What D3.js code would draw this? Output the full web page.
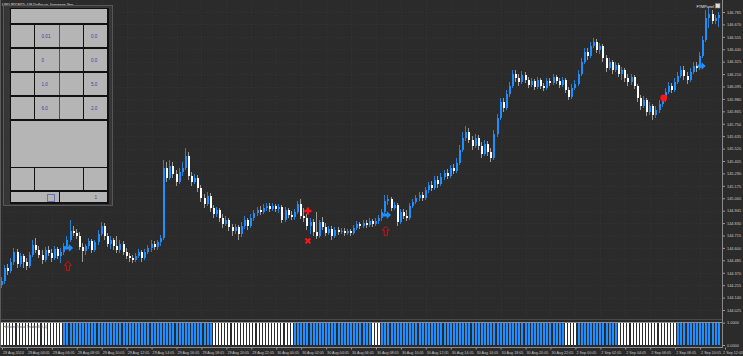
<!DOCTYPE html>
<html><head><meta charset="utf-8">
<script src="https://cdn.jsdelivr.net/npm/d3@7/dist/d3.min.js"></script>
<style>
html,body{margin:0;padding:0;background:#2b2b2b;overflow:hidden}
svg{display:block}
text{font-family:"Liberation Sans",Arial,sans-serif}
</style>
</head><body>
<svg id="chart" width="743" height="356"></svg>
<script>
// ---------------- DATA ----------------
const symbolTitle = "USDJPY,M15:  US Dollar vs Japanese Yen";
const panelName = "FTMPanel";
const subWindowTitle = "Heiken Trend Trade(3,0,5)";

const opens = [144.258,144.295,144.415,144.387,144.470,144.562,144.452,144.525,144.470,144.433,
144.535,144.628,144.581,144.535,144.489,144.581,144.553,144.507,144.591,144.525,
144.562,144.618,144.674,144.758,144.739,144.711,144.609,144.572,144.618,144.665,
144.581,144.655,144.730,144.804,144.711,144.637,144.674,144.618,144.581,144.637,
144.562,144.525,144.507,144.489,144.525,144.562,144.507,144.562,144.600,144.637,
144.609,144.655,144.693,145.341,145.248,145.359,145.285,145.211,145.303,145.341,
145.451,145.266,145.211,145.248,145.155,145.063,145.007,145.081,144.970,144.915,
144.952,144.878,144.822,144.859,144.794,144.758,144.794,144.730,144.804,144.859,
144.804,144.878,144.924,144.952,144.933,144.970,144.988,144.961,144.988,144.961,
144.979,144.859,144.952,144.905,144.887,144.933,145.007,144.896,144.878,144.804,
144.840,144.748,144.711,144.840,144.794,144.739,144.776,144.711,144.767,144.748,
144.758,144.739,144.758,144.739,144.785,144.822,144.804,144.831,144.813,144.850,
144.822,144.850,144.878,144.933,145.035,145.053,144.970,144.998,144.840,144.933,
144.896,144.878,144.988,145.026,145.063,145.090,145.063,145.137,145.183,145.155,
145.229,145.192,145.257,145.294,145.266,145.341,145.313,145.387,145.507,145.618,
145.674,145.600,145.544,145.618,145.544,145.470,145.563,145.489,145.433,145.655,
145.803,145.951,145.896,146.026,146.100,146.211,146.174,146.137,146.202,146.155,
146.109,146.146,146.090,146.155,146.100,146.081,146.146,146.128,146.183,146.146,
146.109,146.155,146.063,145.998,146.081,146.118,146.211,146.322,146.415,146.378,
146.470,146.507,146.433,146.470,146.359,146.266,146.322,146.248,146.294,146.211,
146.248,146.174,146.137,146.183,146.100,145.989,145.914,145.970,145.859,145.914,
145.831,145.877,145.933,145.979,146.044,146.100,146.063,146.137,146.192,146.248,
146.192,146.155,146.229,146.285,146.266,146.378,146.526,146.729,146.766,146.702,
146.729];

const highs = [144.331,144.443,144.452,144.507,144.600,144.591,144.553,144.544,144.507,144.562,
144.674,144.693,144.618,144.581,144.609,144.618,144.591,144.618,144.609,144.600,
144.646,144.711,144.859,144.804,144.776,144.748,144.646,144.637,144.693,144.683,
144.674,144.767,144.840,144.831,144.739,144.711,144.693,144.711,144.674,144.665,
144.600,144.553,144.535,144.553,144.591,144.581,144.591,144.628,144.674,144.665,
144.674,144.720,145.415,145.396,145.415,145.396,145.322,145.341,145.396,145.526,
145.489,145.303,145.285,145.276,145.183,145.100,145.118,145.109,144.998,144.979,
144.970,144.915,144.896,144.878,144.822,144.822,144.813,144.840,144.896,144.878,
144.915,144.952,144.979,144.988,145.007,145.016,145.016,145.016,145.007,145.007,
144.998,144.979,144.970,144.942,144.961,145.035,145.053,144.970,144.915,144.878,
144.868,144.933,144.859,144.887,144.831,144.804,144.804,144.794,144.794,144.785,
144.785,144.776,144.776,144.813,144.850,144.840,144.859,144.859,144.878,144.868,
144.878,144.905,144.961,145.090,145.090,145.072,145.026,145.016,144.961,144.961,
144.952,145.016,145.053,145.090,145.118,145.118,145.164,145.211,145.220,145.266,
145.266,145.294,145.322,145.331,145.368,145.378,145.433,145.553,145.674,145.729,
145.711,145.637,145.655,145.646,145.581,145.600,145.590,145.526,145.692,145.840,
145.989,145.989,146.063,146.137,146.248,146.248,146.211,146.239,146.229,146.183,
146.174,146.165,146.183,146.174,146.128,146.174,146.174,146.211,146.202,146.174,
146.183,146.174,146.090,146.118,146.155,146.248,146.359,146.452,146.452,146.507,
146.544,146.535,146.498,146.489,146.387,146.359,146.340,146.322,146.313,146.276,
146.266,146.211,146.211,146.202,146.118,146.016,146.007,145.989,145.951,145.933,
145.914,145.970,146.007,146.081,146.137,146.128,146.174,146.229,146.285,146.285,
146.229,146.266,146.322,146.322,146.415,146.563,146.803,146.822,146.803,146.757,
146.785];

const lows = [144.230,144.267,144.350,144.368,144.443,144.415,144.424,144.415,144.396,144.415,
144.516,144.553,144.507,144.452,144.470,144.525,144.470,144.489,144.498,144.461,
144.535,144.600,144.655,144.711,144.683,144.581,144.470,144.535,144.591,144.553,
144.562,144.628,144.711,144.674,144.609,144.591,144.581,144.553,144.553,144.535,
144.498,144.470,144.461,144.470,144.507,144.470,144.489,144.544,144.562,144.581,
144.581,144.618,144.674,145.211,145.229,145.248,145.174,145.192,145.266,145.322,
145.229,145.174,145.192,145.118,145.026,144.970,144.988,144.933,144.878,144.887,
144.840,144.785,144.804,144.758,144.711,144.730,144.674,144.702,144.776,144.767,
144.785,144.850,144.896,144.905,144.915,144.942,144.933,144.942,144.933,144.924,
144.831,144.840,144.878,144.859,144.859,144.915,144.868,144.840,144.767,144.730,
144.711,144.683,144.693,144.767,144.711,144.720,144.674,144.693,144.720,144.730,
144.711,144.720,144.711,144.720,144.767,144.776,144.785,144.785,144.794,144.794,
144.804,144.822,144.850,144.915,144.998,144.942,144.952,144.804,144.822,144.868,
144.850,144.859,144.970,145.007,145.035,145.035,145.044,145.109,145.127,145.137,
145.155,145.174,145.229,145.239,145.248,145.285,145.294,145.368,145.489,145.590,
145.572,145.507,145.526,145.507,145.433,145.451,145.451,145.396,145.415,145.627,
145.785,145.859,145.877,145.998,146.081,146.137,146.100,146.118,146.128,146.081,
146.090,146.063,146.072,146.072,146.054,146.063,146.100,146.109,146.118,146.081,
146.090,146.035,145.970,145.979,146.063,146.100,146.192,146.303,146.340,146.359,
146.452,146.405,146.396,146.322,146.229,146.248,146.211,146.229,146.183,146.155,
146.137,146.100,146.109,146.072,145.951,145.877,145.896,145.822,145.831,145.785,
145.803,145.850,145.905,145.951,146.026,146.035,146.044,146.118,146.174,146.155,
146.118,146.137,146.211,146.229,146.248,146.359,146.507,146.637,146.674,146.674,
146.646];

const closes = [144.295,144.415,144.387,144.470,144.562,144.452,144.525,144.470,144.433,144.535,
144.628,144.581,144.535,144.489,144.581,144.553,144.507,144.591,144.525,144.562,
144.618,144.674,144.758,144.739,144.711,144.609,144.572,144.618,144.665,144.581,
144.655,144.730,144.804,144.711,144.637,144.674,144.618,144.581,144.637,144.562,
144.525,144.507,144.489,144.525,144.562,144.507,144.562,144.600,144.637,144.609,
144.655,144.693,145.341,145.248,145.359,145.285,145.211,145.303,145.341,145.451,
145.266,145.211,145.248,145.155,145.063,145.007,145.081,144.970,144.915,144.952,
144.878,144.822,144.859,144.794,144.758,144.794,144.730,144.804,144.859,144.804,
144.878,144.924,144.952,144.933,144.970,144.988,144.961,144.988,144.961,144.979,
144.859,144.952,144.905,144.887,144.933,145.007,144.896,144.878,144.804,144.840,
144.748,144.711,144.840,144.794,144.739,144.776,144.711,144.767,144.748,144.758,
144.739,144.758,144.739,144.785,144.822,144.804,144.831,144.813,144.850,144.822,
144.850,144.878,144.933,145.035,145.053,144.970,144.998,144.840,144.933,144.896,
144.878,144.988,145.026,145.063,145.090,145.063,145.137,145.183,145.155,145.229,
145.192,145.257,145.294,145.266,145.341,145.313,145.387,145.507,145.618,145.674,
145.600,145.544,145.618,145.544,145.470,145.563,145.489,145.433,145.655,145.803,
145.951,145.896,146.026,146.100,146.211,146.174,146.137,146.202,146.155,146.109,
146.146,146.090,146.155,146.100,146.081,146.146,146.128,146.183,146.146,146.109,
146.155,146.063,145.998,146.081,146.118,146.211,146.322,146.415,146.378,146.470,
146.507,146.433,146.470,146.359,146.266,146.322,146.248,146.294,146.211,146.248,
146.174,146.137,146.183,146.100,145.989,145.914,145.970,145.859,145.914,145.831,
145.877,145.933,145.979,146.044,146.100,146.063,146.137,146.192,146.248,146.192,
146.155,146.229,146.285,146.266,146.378,146.526,146.729,146.766,146.702,146.729,
146.757];

// trend histogram: run lengths, alternating state starting with 0 (white), then 1 (blue)
const trendRuns = [20,48,26,25,3,59,4,13,19,14];

const priceTicks = ["146.785","146.670","146.555","146.440","146.325","146.210","146.095","145.980",
"145.865","145.750","145.635","145.520","145.405","145.290","145.175","145.060","144.945","144.830",
"144.715","144.600","144.485","144.370","144.255","144.140","144.025"];

const timeLabels = ["29 Aug 2024","29 Aug 04:05","29 Aug 06:05","29 Aug 08:05","29 Aug 10:05","29 Aug 12:05",
"29 Aug 14:05","29 Aug 16:05","29 Aug 18:05","29 Aug 20:05","29 Aug 22:05","30 Aug 00:05","30 Aug 02:05",
"30 Aug 04:05","30 Aug 06:05","30 Aug 08:05","30 Aug 10:05","30 Aug 12:05","30 Aug 14:05","30 Aug 16:05",
"30 Aug 18:05","30 Aug 20:05","30 Aug 22:05","2 Sep 00:05","2 Sep 02:05","2 Sep 04:05","2 Sep 06:05",
"2 Sep 08:05","2 Sep 10:05","2 Sep 12:05"];
const timeLabelBars = [0,8,16,24,32,40,48,56,64,72,80,88,96,104,112,120,128,136,144,152,160,168,176,184,192,200,208,216,224,232];

const signalTypes  = ["buyArrow","upOutline","plus","cross","buyArrow","upOutline","dot","buyArrow"];
const signalBars   = [21,21,98,98,123,123,212,224];
const signalPrices = [144.600,144.433,144.942,144.665,144.905,144.758,145.989,146.285];

const histLabels = ["1.0000","0.0000"];
const histValues = [1,0];

const panelLeftValues  = ["0.01","0","1.0","6.0"];
const panelRightValues = ["0.0","0.0","5.0","2.0"];
const panelFooterValue = "1";

// ---------------- DRAW ----------------
const W = 743, H = 356;
const BG = "#2b2b2b", BLUE = "#1e8fff", WHITE = "#ffffff", AXC = "#c8c8c8";
const svg = d3.select("#chart");
svg.append("rect").attr("width",W).attr("height",H).attr("fill",BG);

const plotRight = 722.5;
const x = d3.scaleLinear().domain([0,232]).range([2,725]);
const y = d3.scaleLinear().domain([144.025,146.785]).range([310,12]);
const yh = d3.scaleLinear().domain([0,1]).range([345,322.7]);

// grid (faint)
const grid = svg.append("g").attr("stroke","#333333").attr("stroke-dasharray","1,2").attr("stroke-width",1);
priceTicks.forEach(t=>{
  const yy = Math.round(y(+t))+0.5;
  grid.append("line").attr("x1",0).attr("x2",plotRight).attr("y1",yy).attr("y2",yy);
});
timeLabelBars.forEach(b=>{
  const xx = Math.round(x(b))+0.5;
  if (xx < plotRight) grid.append("line").attr("x1",xx).attr("x2",xx).attr("y1",0).attr("y2",318);
});

// candles
const N = closes.length;
const cg = svg.append("g").attr("shape-rendering","crispEdges");
d3.range(N).forEach(i=>{
  const bull = closes[i] >= opens[i];
  const bx = Math.round(x(i)) - 1;
  cg.append("rect").attr("x",bx).attr("width",1)
    .attr("y",y(highs[i])).attr("height",Math.max(1,y(lows[i])-y(highs[i])))
    .attr("fill", bull ? "#2a7fd4" : "#9a9a9a");
  const top = y(Math.max(opens[i],closes[i])), bot = y(Math.min(opens[i],closes[i]));
  cg.append("rect").attr("x",bx).attr("width",2)
    .attr("y",top).attr("height",Math.max(1,bot-top))
    .attr("fill", bull ? BLUE : WHITE);
});

// signals
const sg = svg.append("g");
signalTypes.forEach((t,k)=>{
  const cx = x(signalBars[k]), cy = y(signalPrices[k]);
  if (t==="buyArrow"){
    sg.append("path").attr("transform",`translate(${cx+1.5},${cy})`)
      .attr("d","M-4,-1.6 L0,-1.6 L0,-3.8 L4.2,0 L0,3.8 L0,1.6 L-4,1.6 Z").attr("fill",BLUE);
  } else if (t==="upOutline"){
    sg.append("path").attr("transform",`translate(${cx+0.5},${cy})`)
      .attr("d","M0,-4.5 L3.6,-0.6 L1.6,-0.6 L1.6,4.5 L-1.6,4.5 L-1.6,-0.6 L-3.6,-0.6 Z")
      .attr("fill","none").attr("stroke","#e01010").attr("stroke-width",0.9);
  } else if (t==="plus"){
    sg.append("path").attr("transform",`translate(${cx+0.5},${cy})`)
      .attr("d","M-1.2,-3.6 L1.2,-3.6 L1.2,-1.2 L3.6,-1.2 L3.6,1.2 L1.2,1.2 L1.2,3.6 L-1.2,3.6 L-1.2,1.2 L-3.6,1.2 L-3.6,-1.2 L-1.2,-1.2 Z")
      .attr("fill","#ff1515");
  } else if (t==="cross"){
    sg.append("path").attr("transform",`translate(${cx+0.5},${cy}) rotate(45)`)
      .attr("d","M-1,-3.4 L1,-3.4 L1,-1 L3.4,-1 L3.4,1 L1,1 L1,3.4 L-1,3.4 L-1,1 L-3.4,1 L-3.4,-1 L-1,-1 Z")
      .attr("fill","#ff1515");
  } else if (t==="dot"){
    sg.append("circle").attr("cx",cx+1).attr("cy",cy).attr("r",3.4).attr("fill","#ff1515");
  }
});

// separator & sub window
svg.append("line").attr("x1",0).attr("x2",plotRight).attr("y1",319.5).attr("y2",319.5).attr("stroke","#4a4a4a");
const trendState = [];
trendRuns.forEach((n,k)=>{ for(let j=0;j<n;j++) trendState.push(k%2); });
const hg = svg.append("g").attr("shape-rendering","crispEdges");
trendState.forEach((s,i)=>{
  const bx = Math.round(x(i)) - 1;
  hg.append("rect").attr("x",bx).attr("width",2)
    .attr("y",yh(1)).attr("height",yh(0)-yh(1))
    .attr("fill", s ? BLUE : WHITE);
});
svg.append("line").attr("x1",0).attr("x2",plotRight).attr("y1",322.5).attr("y2",322.5).attr("stroke","#a8a8a8").attr("stroke-width",0.8);
svg.append("text").attr("x",3).attr("y",327.5).attr("font-size",3.8).attr("fill","#555").text(subWindowTitle);

// right axis
const ra = svg.append("g").attr("transform",`translate(${plotRight},0)`)
  .call(d3.axisRight(y).tickValues(priceTicks.map(Number)).tickFormat(d3.format(".3f")).tickSize(2.5).tickSizeOuter(0).tickPadding(2));
ra.select(".domain").remove();
ra.selectAll("line").attr("stroke","#9a9a9a");
ra.selectAll("text").attr("fill",AXC).attr("font-size",3.9).attr("font-family","Liberation Sans, Arial, sans-serif");
const rh = svg.append("g").attr("transform",`translate(${plotRight},0)`)
  .call(d3.axisRight(yh).tickValues(histValues).tickFormat((d,i)=>histLabels[i]).tickSize(2.5).tickSizeOuter(0).tickPadding(2));
rh.select(".domain").remove();
rh.selectAll("line").attr("stroke","#9a9a9a");
rh.selectAll("text").attr("fill",AXC).attr("font-size",3.9).attr("font-family","Liberation Sans, Arial, sans-serif");
svg.append("line").attr("x1",plotRight).attr("x2",plotRight).attr("y1",0).attr("y2",348).attr("stroke","#8a8a8a");

// bottom axis
const ba = svg.append("g").attr("transform","translate(0,347.5)")
  .call(d3.axisBottom(x).tickValues(timeLabelBars).tickFormat((d,i)=>timeLabels[i]).tickSize(2).tickSizeOuter(0).tickPadding(1.5));
ba.select(".domain").remove();
ba.selectAll("line").attr("stroke","#9a9a9a");
ba.selectAll("text").attr("fill",AXC).attr("font-size",3.7).attr("text-anchor","start").attr("dx",0.5)
  .attr("font-family","Liberation Sans, Arial, sans-serif");
// keep the last label inside the window
const lastTick = ba.selectAll(".tick").filter((d,i)=>i===timeLabelBars.length-1);
lastTick.select("text").attr("text-anchor","end").attr("dx",0).attr("x", 742.5 - x(timeLabelBars[timeLabelBars.length-1]));
svg.append("line").attr("x1",0).attr("x2",plotRight).attr("y1",347.5).attr("y2",347.5).attr("stroke","#8a8a8a");

// left frame line
svg.append("line").attr("x1",0.5).attr("x2",0.5).attr("y1",0).attr("y2",348).attr("stroke","#5a5a5a");

// title
svg.append("text").attr("x",2).attr("y",6).attr("font-size",3.8).attr("fill","#e6e6e6").text(symbolTitle);
// FTMPanel label
svg.append("text").attr("x",714).attr("y",7.5).attr("font-size",3.8).attr("fill","#e6e6e6").attr("text-anchor","end").text(panelName);
svg.append("rect").attr("x",715.5).attr("y",3.5).attr("width",4.5).attr("height",4.5).attr("fill","#dcdcdc").attr("stroke","#888").attr("stroke-width",0.5);

// ---------------- CONTROL PANEL ----------------
const pg = svg.append("g").attr("shape-rendering","crispEdges");
pg.append("rect").attr("x",3).attr("y",5).attr("width",109).attr("height",200).attr("fill","#363636").attr("stroke","#575757");
pg.append("rect").attr("x",10).attr("y",8).attr("width",98.5).attr("height",195.5).attr("fill","#111");
const CELL = "#b5b5b5";
function cell(x0,y0,x1,y1){ pg.append("rect").attr("x",x0).attr("y",y0).attr("width",x1-x0).attr("height",y1-y0).attr("fill",CELL); }
const colsX = [[11,34],[35,59],[60,83],[84,107]];
cell(11,9,107,23);
const rowY = [[25,47],[49,71],[73,95],[97,119]];
rowY.forEach(r=>colsX.forEach(c=>cell(c[0],r[0],c[1],r[1])));
rowY.forEach(r=>pg.append("rect").attr("x",59).attr("y",r[0]).attr("width",1).attr("height",r[1]-r[0]).attr("fill","#555"));
cell(11,121,107,167);
cell(11,168,34,190); cell(35,168,83,190); cell(84,168,107,190);
cell(11,192,59,202); cell(60,192,107,202);
pg.append("rect").attr("x",47.5).attr("y",194.5).attr("width",6.5).attr("height",6.5).attr("fill","none").attr("stroke","#5a62b0").attr("stroke-width",0.8);

const tg = svg.append("g").attr("font-size",4.6).attr("fill","#4040a8");
rowY.forEach((r,k)=>{
  tg.append("text").attr("x",41.5).attr("y",(r[0]+r[1])/2+1.6).text(panelLeftValues[k]);
  tg.append("text").attr("x",91).attr("y",(r[0]+r[1])/2+1.6).text(panelRightValues[k]);
});
tg.append("text").attr("x",94.5).attr("y",199).text(panelFooterValue);
</script>
</body></html>
